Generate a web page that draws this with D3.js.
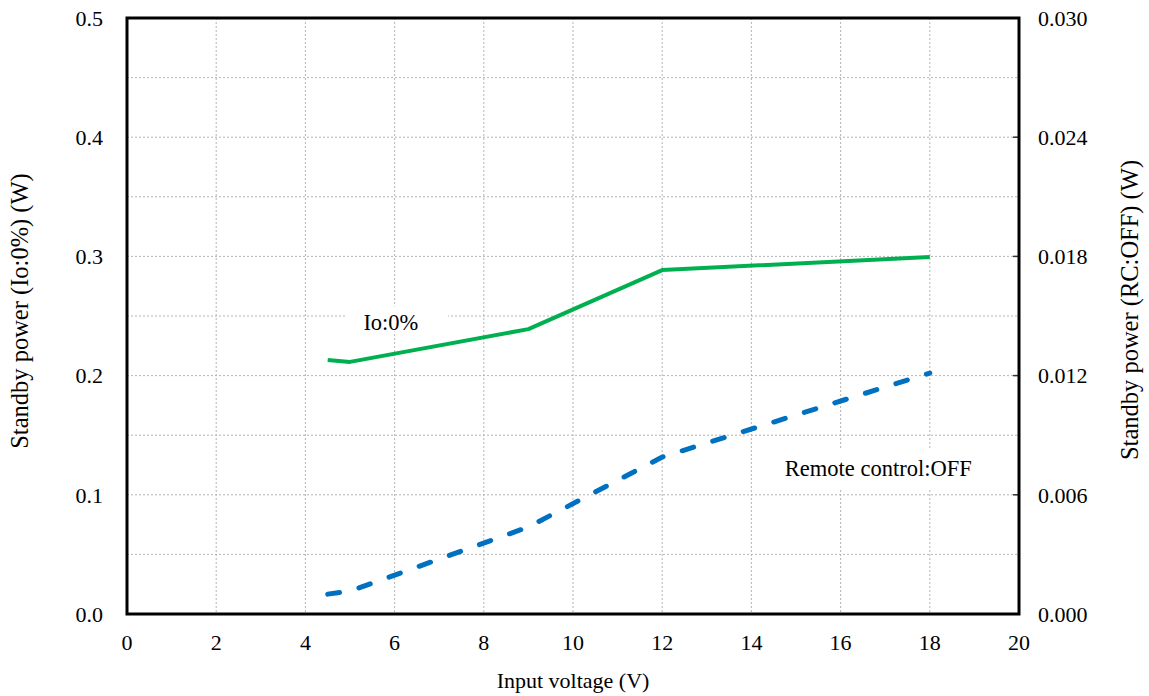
<!DOCTYPE html>
<html>
<head>
<meta charset="utf-8">
<script src="https://cdn.jsdelivr.net/npm/d3@7"></script>
<style>
  body { margin: 0; background: #fff; }
  svg text { font-family: "Liberation Serif", "Times New Roman", serif; fill: #000; }
  .grid line { stroke: #b4b4b4; stroke-width: 1; stroke-dasharray: 2,2; }
</style>
</head>
<body>
<svg id="chart" width="1149" height="696"></svg>
<script>
// Input voltage (V)
const voltage = [4.5, 5, 9, 12, 18];
// Standby power, Io:0% (W) - left axis
const powerIo0 = [0.213, 0.2115, 0.239, 0.2885, 0.2995];
// Standby power, remote control OFF (W) - right axis
const powerRcOff = [0.0010, 0.00115, 0.00438, 0.0079, 0.01213];

const xTicks = [0, 2, 4, 6, 8, 10, 12, 14, 16, 18, 20];
const leftTicks = [0, 0.1, 0.2, 0.3, 0.4, 0.5];
const rightTicks = [0, 0.006, 0.012, 0.018, 0.024, 0.030];
const hGrid = [0.05, 0.1, 0.15, 0.2, 0.25, 0.3, 0.35, 0.4, 0.45];

const svg = d3.select('#chart');
const m = { left: 127, right: 1019, top: 18, bottom: 614 };

const x = d3.scaleLinear().domain([0, 20]).range([m.left, m.right]);
const yL = d3.scaleLinear().domain([0, 0.5]).range([m.bottom, m.top]);
const yR = d3.scaleLinear().domain([0, 0.03]).range([m.bottom, m.top]);

// Grid
const grid = svg.append('g').attr('class', 'grid');
grid.selectAll('.v').data(xTicks.slice(1, -1)).join('line')
  .attr('x1', d => x(d)).attr('x2', d => x(d))
  .attr('y1', m.top).attr('y2', m.bottom);
grid.selectAll('.h').data(hGrid).join('line')
  .attr('x1', m.left).attr('x2', m.right)
  .attr('y1', d => yL(d)).attr('y2', d => yL(d));

// Label backgrounds (hide grid under annotations)
const labels = [
  { text: 'Io:0%', x: 5.3, y: 0.2445, box: [4.9, 7.2, 0.258, 0.237] },
  { text: 'Remote control:OFF', x: 14.75, y: 0.1225, box: [14.6, 19.0, 0.139, 0.104] }
];
svg.selectAll('.lblbg').data(labels).join('rect')
  .attr('x', d => x(d.box[0])).attr('y', d => yL(d.box[2]))
  .attr('width', d => x(d.box[1]) - x(d.box[0]))
  .attr('height', d => yL(d.box[3]) - yL(d.box[2]))
  .attr('fill', '#fff');

// Right axis tick marks (inward)
svg.append('g').selectAll('line').data(rightTicks).join('line')
  .attr('x1', m.right - 6).attr('x2', m.right)
  .attr('y1', d => yR(d)).attr('y2', d => yR(d))
  .attr('stroke', '#333').attr('stroke-width', 1.5);

// Lines
const lineL = d3.line().x((d, i) => x(voltage[i])).y(d => yL(d));
const lineR = d3.line().x((d, i) => x(voltage[i])).y(d => yR(d));

svg.append('path').datum(powerIo0)
  .attr('d', lineL)
  .attr('fill', 'none').attr('stroke', '#00b050').attr('stroke-width', 4)
  .attr('stroke-linejoin', 'round');

svg.append('path').datum(powerRcOff)
  .attr('d', lineR)
  .attr('fill', 'none').attr('stroke', '#0070c0').attr('stroke-width', 5)
  .attr('stroke-linecap', 'round').attr('stroke-dasharray', '12,20');

// Frame
svg.append('rect')
  .attr('x', m.left).attr('y', m.top)
  .attr('width', m.right - m.left).attr('height', m.bottom - m.top)
  .attr('fill', 'none').attr('stroke', '#000').attr('stroke-width', 3);

// Tick labels
svg.append('g').selectAll('text').data(xTicks).join('text')
  .attr('x', d => x(d)).attr('y', 650)
  .attr('text-anchor', 'middle').attr('font-size', 22)
  .text(d => d);

svg.append('g').selectAll('text').data(leftTicks).join('text')
  .attr('x', 103).attr('y', d => yL(d)).attr('dy', '0.35em')
  .attr('text-anchor', 'end').attr('font-size', 22)
  .text(d3.format('.1f'));

svg.append('g').selectAll('text').data(rightTicks).join('text')
  .attr('x', 1038).attr('y', d => yR(d)).attr('dy', '0.35em')
  .attr('text-anchor', 'start').attr('font-size', 22)
  .text(d3.format('.3f'));

// Annotations
svg.selectAll('.lbl').data(labels).join('text')
  .attr('x', d => x(d.x)).attr('y', d => yL(d.y)).attr('dy', '0.35em')
  .attr('font-size', 22.5)
  .text(d => d.text);

// Axis titles
svg.append('text')
  .attr('x', (m.left + m.right) / 2).attr('y', 688)
  .attr('text-anchor', 'middle').attr('font-size', 22)
  .text('Input voltage (V)');

svg.append('text')
  .attr('transform', `translate(28,${(m.top + m.bottom) / 2 - 5}) rotate(-90)`)
  .attr('text-anchor', 'middle').attr('font-size', 24.5)
  .text('Standby power (Io:0%) (W)');

svg.append('text')
  .attr('transform', `translate(1138,${(m.top + m.bottom) / 2 - 6}) rotate(-90)`)
  .attr('text-anchor', 'middle').attr('font-size', 24.5)
  .text('Standby power (RC:OFF) (W)');
</script>
</body>
</html>
